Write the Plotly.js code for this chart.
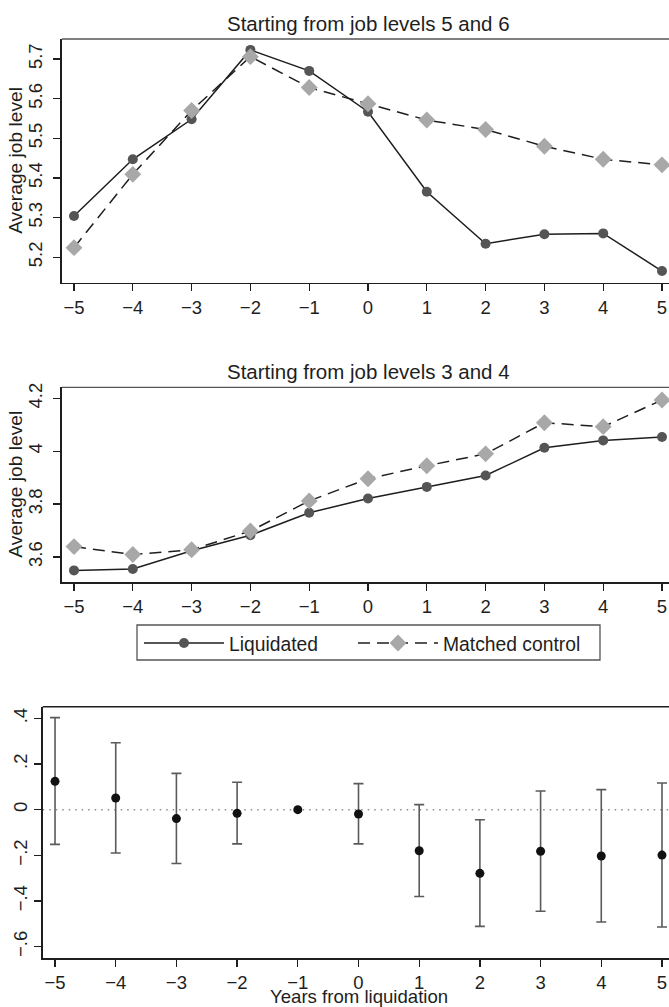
<!DOCTYPE html>
<html>
<head>
<meta charset="utf-8">
<script src="https://cdn.plot.ly/plotly-3.0.1.min.js"></script>
<style>
html, body { margin: 0; padding: 0; overflow: hidden; background: #fff; }
#chart { width: 690px; height: 1007px; }
</style>
</head>
<body>
<div id="chart"></div>
<script>
// ---- data ----
const years = [-5, -4, -3, -2, -1, 0, 1, 2, 3, 4, 5];
const liquidated56 = [5.304, 5.447, 5.548, 5.723, 5.670, 5.567, 5.365, 5.234, 5.258, 5.260, 5.165];
const control56 = [5.224, 5.409, 5.570, 5.706, 5.628, 5.587, 5.546, 5.522, 5.480, 5.447, 5.433];
const liquidated34 = [3.549, 3.554, 3.623, 3.682, 3.767, 3.821, 3.865, 3.908, 4.013, 4.041, 4.054];
const control34 = [3.639, 3.609, 3.627, 3.698, 3.812, 3.896, 3.945, 3.990, 4.108, 4.093, 4.194];
const estimate = [0.124, 0.051, -0.039, -0.016, 0, -0.019, -0.180, -0.279, -0.182, -0.203, -0.199];
const ciHigh = [0.403, 0.293, 0.159, 0.120, null, 0.114, 0.022, -0.044, 0.082, 0.088, 0.117];
const ciLow = [-0.152, -0.190, -0.236, -0.150, null, -0.150, -0.380, -0.511, -0.445, -0.492, -0.514];
const xTicks = [-5, -4, -3, -2, -1, 0, 1, 2, 3, 4, 5];
const yTicks56 = [5.2, 5.3, 5.4, 5.5, 5.6, 5.7];
const yTickText56 = ['5.2', '5.3', '5.4', '5.5', '5.6', '5.7'];
const yTicks34 = [3.6, 3.8, 4.0, 4.2];
const yTickText34 = ['3.6', '3.8', '4', '4.2'];
const yTicksDiff = [-0.6, -0.4, -0.2, 0, 0.2, 0.4];
const yTickTextDiff = ['\u2212.6', '\u2212.4', '\u2212.2', '0', '.2', '.4'];
const titles = ['Starting from job levels 5 and 6', 'Starting from job levels 3 and 4'];
const seriesNames = ['Liquidated', 'Matched control'];

// ---- styling ----
const W = 690, H = 1007;
const FONT = '"Liberation Sans", Arial, Helvetica, sans-serif';
const fx = px => px / W;
const fy = px => 1 - px / H;

const liqStyle = {
  mode: 'lines+markers',
  line: { color: '#1e1e1e', width: 1.5 },
  marker: { symbol: 'circle', size: 10, color: '#555555' }
};
const ctrlStyle = {
  mode: 'lines+markers',
  line: { color: '#1e1e1e', width: 1.5, dash: '12px,7px' },
  marker: { symbol: 'diamond', size: 13, color: '#a8a8a8' }
};

const traces = [
  Object.assign({ x: years, y: liquidated56, name: seriesNames[0], xaxis: 'x', yaxis: 'y', showlegend: true, legend: 'legend' }, liqStyle),
  Object.assign({ x: years, y: control56, name: seriesNames[1], xaxis: 'x', yaxis: 'y', showlegend: true, legend: 'legend2' }, ctrlStyle),
  Object.assign({ x: years, y: liquidated34, name: seriesNames[0], xaxis: 'x2', yaxis: 'y2', showlegend: false }, liqStyle),
  Object.assign({ x: years, y: control34, name: seriesNames[1], xaxis: 'x2', yaxis: 'y2', showlegend: false }, ctrlStyle),
  {
    x: years, y: estimate, xaxis: 'x3', yaxis: 'y3', mode: 'markers', showlegend: false,
    marker: { symbol: 'circle', size: 9, color: '#111111' },
    error_y: {
      type: 'data', symmetric: false,
      array: estimate.map((v, i) => ciHigh[i] === null ? NaN : ciHigh[i] - v),
      arrayminus: estimate.map((v, i) => ciLow[i] === null ? NaN : v - ciLow[i]),
      color: '#5a5a5a', thickness: 1.6, width: 5
    }
  }
];

const tickFont = { family: FONT, size: 18.5, color: '#1e1e1e' };
function xAxis(left, right, anchor, half) {
  return {
    domain: [fx(left), fx(right)], anchor: anchor,
    range: [-half, half],
    tickmode: 'array', tickvals: xTicks,
    ticks: 'outside', ticklen: 7, tickwidth: 1.3, tickcolor: '#1e1e1e',
    showline: true, linecolor: '#1e1e1e', linewidth: 1.6,
    showgrid: false, zeroline: false, tickfont: tickFont, fixedrange: true
  };
}
function yAxis(top, bottom, range, vals, text, anchor, standoff) {
  return {
    domain: [fy(bottom), fy(top)], anchor: anchor, range: range,
    tickmode: 'array', tickvals: vals, ticktext: text, tickangle: -90,
    ticks: 'outside', ticklen: 7, tickwidth: 1.3, tickcolor: '#1e1e1e',
    ticklabelstandoff: standoff,
    showline: true, linecolor: '#1e1e1e', linewidth: 1.6,
    showgrid: false, zeroline: false, tickfont: tickFont, fixedrange: true
  };
}
function legendAt(leftPx) {
  return {
    orientation: 'h', x: fx(leftPx), xanchor: 'left', y: fy(624), yanchor: 'top',
    borderwidth: 0, bgcolor: 'rgba(0,0,0,0)',
    font: { family: FONT, size: 19.3, color: '#1e1e1e' },
    itemwidth: 80, itemclick: false, itemdoubleclick: false
  };
}

const layout = {
  width: W, height: H,
  margin: { l: 0, r: 0, t: 0, b: 0 },
  paper_bgcolor: '#ffffff', plot_bgcolor: '#ffffff',
  font: { family: FONT, color: '#1e1e1e' },
  showlegend: true,
  legend: legendAt(139),
  legend2: legendAt(353),
  xaxis: xAxis(62, 674, 'y', 5.204),
  yaxis: yAxis(39, 282.7, [5.1356, 5.7505], yTicks56, yTickText56, 'x', 4),
  xaxis2: xAxis(62, 674, 'y2', 5.204),
  yaxis2: yAxis(387.3, 582, [3.505, 4.242], yTicks34, yTickText34, 'x2', 4),
  xaxis3: xAxis(42.7, 674.3, 'y3', 5.203),
  yaxis3: yAxis(706.7, 958.3, [-0.651, 0.451], yTicksDiff, yTickTextDiff, 'x3', 0),
  shapes: [
    { type: 'line', xref: 'x domain', yref: 'y domain', x0: 0, x1: 1, y0: 1, y1: 1, line: { color: '#555555', width: 1.3 } },
    { type: 'line', xref: 'x2 domain', yref: 'y2 domain', x0: 0, x1: 1, y0: 1, y1: 1, line: { color: '#555555', width: 1.3 } },
    { type: 'line', xref: 'x3 domain', yref: 'y3 domain', x0: 0, x1: 1, y0: 1, y1: 1, line: { color: '#1e1e1e', width: 1.5 } },
    { type: 'line', xref: 'x3 domain', yref: 'y3', x0: 0, x1: 1, y0: 0, y1: 0, layer: 'below', line: { color: '#8c8c8c', width: 1.5, dash: '1.5px,5px' } },
    // legend frame
    { type: 'rect', xref: 'paper', yref: 'paper', x0: fx(137), x1: fx(600), y0: fy(660), y1: fy(625), line: { color: '#555555', width: 1.3 }, fillcolor: 'rgba(0,0,0,0)' }
  ],
  annotations: [
    { text: titles[0], xref: 'paper', yref: 'paper', x: fx(368), y: fy(23), xanchor: 'center', yanchor: 'middle', showarrow: false, font: { family: FONT, size: 20.5, color: '#1e1e1e' } },
    { text: titles[1], xref: 'paper', yref: 'paper', x: fx(368), y: fy(371), xanchor: 'center', yanchor: 'middle', showarrow: false, font: { family: FONT, size: 20.5, color: '#1e1e1e' } },
    { text: 'Average job level', xref: 'paper', yref: 'paper', x: fx(16), y: fy((39 + 282.7) / 2), xanchor: 'center', yanchor: 'middle', textangle: -90, showarrow: false, font: { family: FONT, size: 19.2, color: '#1e1e1e' } },
    { text: 'Average job level', xref: 'paper', yref: 'paper', x: fx(16), y: fy((387.3 + 582) / 2), xanchor: 'center', yanchor: 'middle', textangle: -90, showarrow: false, font: { family: FONT, size: 19.2, color: '#1e1e1e' } },
    { text: 'Years from liquidation', xref: 'paper', yref: 'paper', x: fx(358.5), y: fy(1009), xanchor: 'center', yanchor: 'bottom', showarrow: false, font: { family: FONT, size: 18.6, color: '#1e1e1e' } }
  ]
};

Plotly.newPlot('chart', traces, layout, { staticPlot: true, displayModeBar: false });
</script>
</body>
</html>
